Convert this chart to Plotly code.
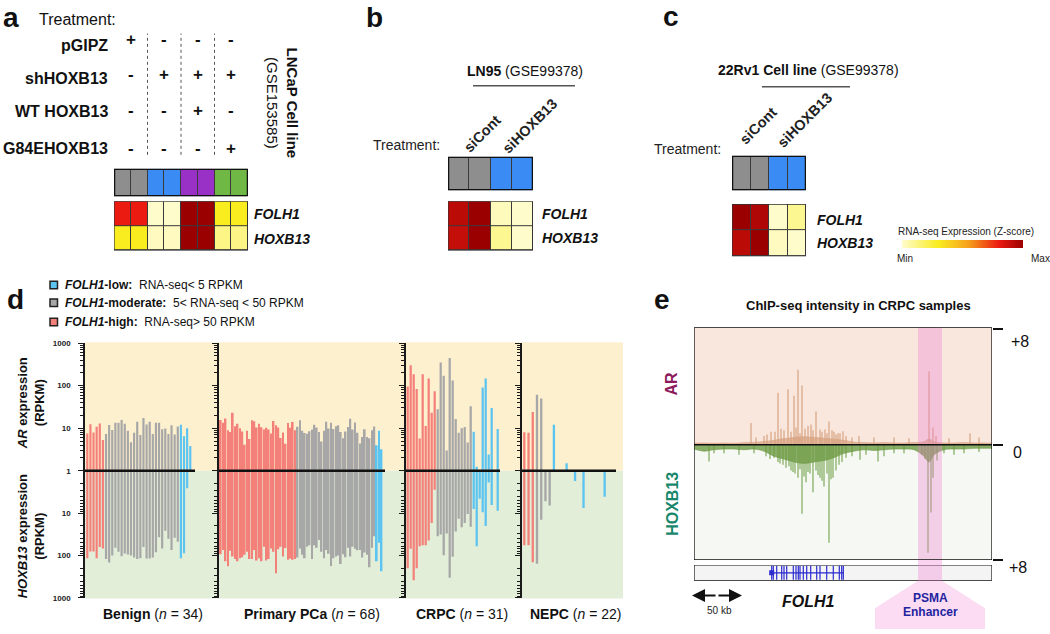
import plotly.graph_objects as go

W, H = 1050, 634
def px(v): return v / W
def py(v): return 1 - v / H

FONT = "Arial, Liberation Sans, Helvetica, sans-serif"

# ================= DATA =================
# ---- panel a ----
a_rows = ["pGIPZ", "shHOXB13", "WT HOXB13", "G84EHOXB13"]
a_signs = [["+", "-", "-", "-"],
           ["-", "+", "+", "+"],
           ["-", "-", "+", "-"],
           ["-", "-", "-", "+"]]
a_treat = [0, 0, 1, 1, 2, 2, 3, 3]
genes = ["FOLH1", "HOXB13"]
a_expr = [[0.80, 0.80, 0.00, 0.00, 1.00, 1.00, 0.30, 0.30],
          [0.30, 0.30, 0.02, 0.02, 1.00, 1.00, 0.12, 0.12]]
# ---- panel b / c ----
si_labels = ["siCont", "siHOXB13"]
bc_treat = [0, 0, 1, 1]
b_expr = [[0.92, 1.00, 0.03, 0.00],
          [0.90, 1.00, 0.10, 0.00]]
c_expr = [[1.00, 0.95, 0.00, 0.10],
          [0.92, 1.00, 0.02, 0.00]]

# ---- panel d (RPKM) ----
benign_cat = ["high"] * 6 + ["moderate"] * 24 + ["low"] * 4
benign_ar = [7.5, 12.4, 7.9, 10.9, 13, 5.3,
             7.3, 11.9, 9.1, 13.5, 13.5, 15.6, 12.8, 8.7, 4.7, 7.8, 14.2, 6.9,
             17.3, 12.3, 14.2, 7.3, 13.5, 13.5, 9.5, 9.8, 7.3, 11.7, 7.1, 11,
             12, 6.5, 10, 3.8]
benign_hox = [115, 80, 80, 115, 63, 68,
              121, 145, 100, 65, 81, 104, 90, 95, 100, 111, 121, 115,
              63, 117, 117, 111, 84, 37, 68, 26, 40, 74, 38, 47,
              115, 88, 2.6, 1]

primary_cat = ["high"] * 32 + ["moderate"] * 33 + ["low"] * 3
primary_ar = [15.6, 13.5, 17, 9, 8.2, 23, 11.1, 12.8, 10, 8.4, 4.1, 8.7, 5.6, 15.3,
              14.5, 10.4, 12.8, 10.5, 9.3, 10.2, 9.3, 7.5, 14.7, 11.7, 10.4, 5.9,
              7.9, 4.3, 13.3, 10.2, 14, 9,
              10.9, 15.3, 8.7, 7.7, 7.4, 8.5, 9.3, 12.1, 10.4, 8.2, 4.9, 8.7, 14.2,
              9.8, 13.5, 9.6, 11.1, 11.7, 8.1, 5.8, 8.4, 10.7, 16.7, 9.3, 13.7, 7.8,
              4.4, 6.2, 9.5, 6.2, 5.8, 9, 11,
              4.0, 8.7, 3.2]
primary_hox = [93, 74, 137, 179, 77, 105, 121, 137, 115, 109, 96, 81, 121, 121,
               74, 131, 115, 137, 62, 131, 121, 68, 81, 260, 71, 62, 105, 66,
               125, 118, 125, 121,
               111, 68, 96, 115, 62, 57, 121, 57, 65, 43, 81, 115, 74, 91, 176,
               115, 105, 100, 159, 93, 109, 65, 105, 62, 69, 75, 74, 111, 85, 96,
               188, 65, 35,
               137, 50, 234]

crpc_cat = ["high"] * 10 + ["moderate"] * 12 + ["low"] * 9
crpc_ar = [96, 300, 185, 83, 5.7, 185, 11.3, 148, 23, 74,
           28, 350, 170, 3, 445, 133, 16.5, 7.8, 10, 10.7, 4.6, 33,
           8.3, 1.25, 1, 90, 148, 2.4, 30, 1, 9.6]
crpc_hox = [200, 69, 380, 200, 60, 57, 57, 44, 17, 2.8,
            35, 32, 98, 30, 333, 107, 27, 13.6, 21.6, 17, 10.4, 21,
            8, 60, 4.6, 9.5, 20, 1.9, 6.4, 1, 8.8]

nepc_cat = ["high"] * 3 + ["moderate"] * 4 + ["low"] * 15
nepc_ar = [8, 7.8, 24, 61, 50, 1, 1,
           12, 1, 1, 1.5, 1, 1, 1, 1, 1, 1, 1, 1, 1, 1, 1]
nepc_hox = [57, 57, 144, 157, 14.3, 5.2, 6.6,
            1, 1, 1, 1, 1, 1.75, 1, 7.6, 1, 1, 1, 1, 4.1, 1, 1]

d_names = ["Benign", "Primary PCa", "CRPC", "NEPC"]
d_cats = [benign_cat, primary_cat, crpc_cat, nepc_cat]
d_ar = [benign_ar, primary_ar, crpc_ar, nepc_ar]
d_hox = [benign_hox, primary_hox, crpc_hox, nepc_hox]
d_legend = [("low", "RNA-seq&lt; 5 RPKM"),
            ("moderate", "5&lt; RNA-seq &lt; 50 RPKM"),
            ("high", "RNA-seq&gt; 50 RPKM")]

# ---- panel e (kb, ChIP-seq signal) ----
env_kb = [0, 10, 20, 30, 40, 50, 60, 70, 80, 90, 100, 110, 120, 130, 140, 150,
          160, 170, 180, 190, 200, 210, 220, 230, 235, 240, 250, 260, 270, 280, 290, 298]
ar_env = [0.1, 0.12, 0.1, 0.12, 0.1, 0.14, 0.16, 0.22, 0.3, 0.42, 0.5, 0.55, 0.5,
          0.45, 0.38, 0.3, 0.18, 0.15, 0.12, 0.15, 0.12, 0.12, 0.15, 0.2, 0.4, 0.2,
          0.12, 0.12, 0.15, 0.12, 0.12, 0.1]
hox_env = [0.3, 0.45, 0.35, 0.3, 0.3, 0.35, 0.3, 0.45, 0.8, 1.0, 1.2, 1.3, 1.2,
           1.1, 0.9, 0.6, 0.45, 0.35, 0.4, 0.35, 0.3, 0.3, 0.35, 0.8, 1.2, 0.7,
           0.35, 0.3, 0.3, 0.25, 0.25, 0.25]
ar_peak_kb = [57, 77, 84, 90, 94, 100, 104, 108, 111, 114, 117, 122, 126, 131,
              135, 140, 144, 149, 235, 239, 276,
              62, 70, 73, 81, 87, 97, 102, 106, 119, 128, 133, 138, 142, 146, 152,
              158, 165, 180, 200, 215, 242, 255, 285]
ar_peak_val = [1.5, 0.9, 3.6, 1.0, 3.85, 3.4, 5.2, 4.1, 1.1, 1.3, 1.4, 2.3, 1.05,
               1.05, 1.6, 0.9, 0.8, 0.93, 5.1, 1.2, 0.8,
               0.5, 0.6, 0.7, 0.9, 1.1, 0.9, 1.2, 0.8, 1.0, 0.9, 0.8, 1.0, 0.7, 0.8,
               0.6, 0.5, 0.6, 0.5, 0.5, 0.45, 0.6, 0.45, 0.5]
hox_peak_kb = [15, 30, 80, 84, 89, 95, 99, 104, 108, 112, 116, 119, 122, 126, 130,
               135, 139, 145, 152, 166, 184, 200, 234, 237, 239, 260,
               20, 45, 60, 72, 76, 86, 92, 97, 101, 106, 110, 114, 124, 128, 133,
               137, 142, 148, 158, 172, 190, 210, 228, 231, 243, 250, 270, 285]
hox_peak_val = [1.17, 0.6, 0.9, 1.2, 1.4, 1.5, 1.9, 2.3, 4.8, 2.6, 2.0, 3.3, 1.8,
                2.3, 2.9, 6.8, 2.3, 1.4, 0.9, 1.05, 1.17, 0.6, 7.5, 4.7, 2.3, 0.7,
                0.6, 0.7, 0.6, 0.8, 1.0, 1.3, 1.6, 1.8, 2.0, 1.7, 2.2, 1.9, 2.1, 2.5,
                2.0, 2.4, 1.8, 1.2, 0.8, 0.7, 0.8, 0.6, 0.7, 1.0, 1.1, 0.6, 0.6, 0.5]
gene_span_kb = [77.7, 150]
exon_kb = [77.7, 79.3, 82.7, 87.7, 90, 92.7, 99.3, 102, 104.3, 106, 109.3, 112.7,
           116.7, 122.7, 126, 132.7, 139.3, 145.3, 147.7, 149.3]
enhancer_kb = [224, 248]
scale_kb = 50

# ================= STYLE =================
treat_colors = ["#8e8e8e", "#3a8cf4", "#9a31c7", "#6fb845"]
expr_scale = [[0.0, "#fffccc"], [0.3, "#f9ec1f"], [0.55, "#f6a01c"],
              [0.8, "#ec1b12"], [1.0, "#9b0000"]]
cat_colors = {"low": "#5cc4f0", "moderate": "#a7a7a7", "high": "#f4807a"}

fig = go.Figure()
layout = dict(width=W, height=H, margin=dict(l=0, r=0, t=0, b=0),
              paper_bgcolor="white", plot_bgcolor="rgba(0,0,0,0)",
              showlegend=False, barmode="overlay",
              font=dict(family=FONT, color="#111"))
shapes, anns = [], []

def xk(i): return "xaxis" if i == 1 else f"xaxis{i}"
def yk(i): return "yaxis" if i == 1 else f"yaxis{i}"
def xr(i): return "x" if i == 1 else f"x{i}"
def yr(i): return "y" if i == 1 else f"y{i}"

def ann(text, x, y, size=12, xa="center", ya="middle", **kw):
    d = dict(text=text, x=px(x), y=py(y), xref="paper", yref="paper",
             showarrow=False, xanchor=xa, yanchor=ya,
             font=dict(size=size, family=FONT, color=kw.pop("color", "#111")))
    d.update(kw)
    anns.append(d)

# ---------- panel d ----------
# (axis px, right px, first bar px, step px, bar width, zero-line end px)
d_geom = [(85, 219, 87.3, 3.12, 0.7, 195), (219, 406, 220.7, 2.4, 0.75, 385),
          (406, 522, 407.7, 3.0, 0.75, 500), (522, 623, 524.3, 4.23, 0.55, 616)]
minor_vals = [m * 10 ** k for k in range(3) for m in range(2, 10)]
Y_TOP, Y_MID, Y_BOT = 344, 473.5, 602.5

shapes.append(dict(type="rect", xref="paper", yref="paper", x0=px(85), x1=px(623),
                   y0=py(Y_MID), y1=py(343), fillcolor="#fdf0cf", line=dict(width=0), layer="below"))
shapes.append(dict(type="rect", xref="paper", yref="paper", x0=px(85), x1=px(623),
                   y0=py(603), y1=py(Y_MID), fillcolor="#e2eed8", line=dict(width=0), layer="below"))

label_cx = [153, 312, 462, 575]
for g in range(4):
    xi, yu, yl = g + 1, g + 1, g + 5
    ax_px, r_px, f_px, st, bw, le = d_geom[g]
    n = len(d_ar[g])
    xs = list(range(n))
    cols = [cat_colors[c] for c in d_cats[g]]
    x0r = (ax_px - f_px) / st
    layout[xk(xi)] = dict(domain=[px(ax_px), px(r_px)], range=[x0r, (r_px - f_px) / st],
                          visible=False, anchor=yr(yl))
    common = dict(type="log", showline=True, linecolor="#1a1a1a", linewidth=1.5,
                  ticks="outside", ticklen=5, tickwidth=1.2, tickcolor="#1a1a1a",
                  showgrid=False, zeroline=False, anchor=xr(xi),
                  minor=dict(ticks="outside", ticklen=3, tickwidth=1, tickcolor="#1a1a1a",
                             tickvals=minor_vals, showgrid=False),
                  tickfont=dict(size=8, color="#222", family=FONT),
                  showticklabels=(g == 0), ticklabelstandoff=6)
    layout[yk(yu)] = dict(common, domain=[py(Y_MID), py(Y_TOP)], range=[0, 3],
                          tickvals=[1, 10, 100, 1000],
                          ticktext=["<b>1</b>", "<b>10</b>", "<b>100</b>", "<b>1000</b>"])
    layout[yk(yl)] = dict(common, domain=[py(Y_BOT), py(Y_MID)], range=[3, 0],
                          tickvals=[10, 100, 1000],
                          ticktext=["<b>10</b>", "<b>100</b>", "<b>1000</b>"])
    fig.add_trace(go.Bar(x=xs, y=d_ar[g], width=bw, marker=dict(color=cols, line=dict(width=0)),
                         xaxis=xr(xi), yaxis=yr(yu), hoverinfo="skip"))
    fig.add_trace(go.Bar(x=xs, y=d_hox[g], width=bw, marker=dict(color=cols, line=dict(width=0)),
                         xaxis=xr(xi), yaxis=yr(yl), hoverinfo="skip"))
    shapes.append(dict(type="line", xref=xr(xi), yref="paper", x0=x0r, x1=(le - f_px) / st,
                       y0=py(Y_MID), y1=py(Y_MID), line=dict(color="#111", width=2.5), layer="above"))
    ann(f"<b>{d_names[g]}</b> (<i>n</i> = {n})", label_cx[g], 619, 14)

ann("<b><i>AR</i> expression<br>(RPKM)</b>", 31, 405, 13, textangle=-90)
ann("<b><i>HOXB13</i> expression<br>(RPKM)</b>", 31, 540, 13, textangle=-90)
for i, (cat, txt) in enumerate(d_legend):
    yy = [285, 303, 322.7][i]
    shapes.append(dict(type="rect", xref="paper", yref="paper", x0=px(50), x1=px(57.5),
                       y0=py(yy + 3.8), y1=py(yy - 3.8), fillcolor=cat_colors[cat],
                       line=dict(color="#222", width=1.5)))
    ann(f"<b><i>FOLH1</i>-{cat}:</b>  {txt}", 63, yy, 12, xa="left")

# ---------- heatmap helper (a, b, c) ----------
def heat_block(xi, yt, ye, xdom, tdom, edom, treat, tcolors, expr, show_scale=False):
    nc = len(treat)
    layout[xk(xi)] = dict(domain=[px(xdom[0]), px(xdom[1])], range=[-0.5, nc - 0.5],
                          visible=False, anchor=yr(ye))
    layout[yk(yt)] = dict(domain=[py(tdom[1]), py(tdom[0])], range=[-0.5, 0.5],
                          visible=False, anchor=xr(xi))
    layout[yk(ye)] = dict(domain=[py(edom[1]), py(edom[0])], range=[1.5, -0.5],
                          visible=False, anchor=xr(xi))
    k = len(tcolors) - 1
    tscale = [[i / k, c] for i, c in enumerate(tcolors)]
    for yy, y0, y1 in ((yt, -0.5, 0.5), (ye, -0.5, 1.5)):
        shapes.append(dict(type="rect", xref=xr(xi), yref=yr(yy), x0=-0.5, x1=nc - 0.5,
                           y0=y0, y1=y1, fillcolor="#3a3a3a", line=dict(width=0), layer="below"))
    fig.add_trace(go.Heatmap(z=[treat], x=list(range(nc)), y=[0], colorscale=tscale,
                             zmin=0, zmax=k, showscale=False, xgap=1, ygap=0,
                             xaxis=xr(xi), yaxis=yr(yt), hoverinfo="skip"))
    hm = dict(z=expr, x=list(range(nc)), y=[0, 1], colorscale=expr_scale, zmin=0, zmax=1,
              xgap=1, ygap=1, xaxis=xr(xi), yaxis=yr(ye), hoverinfo="skip", showscale=show_scale)
    if show_scale:
        hm["colorbar"] = dict(orientation="h", x=px(962.5), xanchor="center", y=py(243),
                              yanchor="middle", len=121, lenmode="pixels", thickness=8,
                              thicknessmode="pixels", outlinewidth=0, showticklabels=False,
                              ticks="", xpad=0, ypad=0)
    fig.add_trace(go.Heatmap(**hm))
    shapes.append(dict(type="rect", xref=xr(xi), yref=yr(yt), x0=-0.5, x1=nc - 0.5,
                       y0=-0.5, y1=0.5, line=dict(color="#111", width=2.5), layer="above"))
    shapes.append(dict(type="rect", xref=xr(xi), yref=yr(ye), x0=-0.5, x1=nc - 0.5,
                       y0=-0.5, y1=1.5, line=dict(color="#333", width=1.2), layer="above"))

# ---------- panel a ----------
heat_block(5, 9, 10, (114, 248), (167, 195), (200, 250), a_treat, treat_colors, a_expr)
ann("<b>a</b>", 11, 14, 28)
ann("Treatment:", 37, 16, 16, xa="left")
row_y = [41.7, 76, 109.3, 146.7]
sign_y = [36, 72, 108, 147]
for r, name in enumerate(a_rows):
    ann(f"<b>{name}</b>", 110, row_y[r], 16, xa="right")
    for cidx, s in enumerate(a_signs[r]):
        anns.append(dict(text=f"<b>{s}</b>", x=2 * cidx + 0.5, y=py(sign_y[r]), xref="x5",
                         yref="paper", showarrow=False, xanchor="center", yanchor="middle",
                         font=dict(size=17, family=FONT, color="#111")))
for b in (1.5, 3.5, 5.5):
    shapes.append(dict(type="line", xref="x5", yref="paper", x0=b, x1=b, y0=py(153), y1=py(30),
                       line=dict(color="#555", width=1, dash="dot")))
for gi, gname in enumerate(genes):
    ann(f"<b><i>{gname}</i></b>", 252, [213, 238][gi], 14, xa="left")
ann("<b>LNCaP Cell line</b><br>(GSE153585)", 282, 100, 15, textangle=90)

# ---------- panel b ----------
heat_block(6, 11, 12, (448, 533), (155, 189), (200, 250), bc_treat, treat_colors[:2], b_expr)
ann("<b>b</b>", 374, 14, 28)
ann("<b>LN95</b> (GSE99378)", 525, 68, 14)
shapes.append(dict(type="line", xref="paper", yref="paper", x0=px(473), x1=px(575),
                   y0=py(83), y1=py(83), line=dict(color="#555", width=1.5)))
ann("Treatment:", 442, 143, 14, xa="right", color="#222")
for i, s in enumerate(si_labels):
    ann(f"<b>{s}</b>", [482, 530][i], [132, 124][i], 14.5, textangle=-45, color="#222")
for gi, gname in enumerate(genes):
    ann(f"<b><i>{gname}</i></b>", 540, [213, 237][gi], 14, xa="left")

# ---------- panel c ----------
heat_block(7, 13, 14, (732, 806), (154, 189), (203, 256), bc_treat, treat_colors[:2], c_expr,
           show_scale=True)
ann("<b>c</b>", 671, 13, 28)
ann("<b>22Rv1 Cell line</b> (GSE99378)", 808, 67, 14)
shapes.append(dict(type="line", xref="paper", yref="paper", x0=px(762), x1=px(850),
                   y0=py(84), y1=py(84), line=dict(color="#555", width=1.5)))
ann("Treatment:", 723, 147, 14, xa="right", color="#222")
for i, s in enumerate(si_labels):
    ann(f"<b>{s}</b>", [758, 805][i], [124, 118][i], 14.5, textangle=-45, color="#222")
for gi, gname in enumerate(genes):
    ann(f"<b><i>{gname}</i></b>", 815, [219, 242][gi], 14, xa="left")
ann("RNA-seq Expression (Z-score)", 966, 231, 10, color="#222")
ann("Min", 905, 258, 10, color="#222")
ann("Max", 1040, 258, 10, color="#222")

# ---------- panel e ----------
E_L, E_R, E_T, E_B = 694, 992, 328, 564
layout["xaxis8"] = dict(domain=[px(E_L), px(E_R)], range=[0, 298], visible=False, anchor="y15")
layout["yaxis15"] = dict(domain=[py(E_B), py(E_T)], range=[-8, 8.14], anchor="x8", side="right",
                         showline=False, showgrid=False, zeroline=False, ticks="outside",
                         ticklen=10, tickwidth=1.5, tickcolor="#111", tickvals=[-8, 0, 8],
                         showticklabels=False)
layout["yaxis16"] = dict(domain=[py(585), py(569)], range=[0, 1], visible=False, anchor="x8")

shapes.append(dict(type="rect", xref="x8", yref="y15", x0=0, x1=298, y0=0, y1=8.14,
                   fillcolor="#f9e7dd", line=dict(width=0), layer="below"))
shapes.append(dict(type="rect", xref="x8", yref="y15", x0=0, x1=298, y0=-8, y1=0,
                   fillcolor="#f6f8f3", line=dict(width=0), layer="below"))
# trapezoid under the enhancer
trap = [(918, 585), (942, 585), (985, 613), (985, 634), (875, 634), (875, 613)]
path = "M " + " L ".join(f"{px(a)},{py(b)}" for a, b in trap) + " Z"
shapes.append(dict(type="path", xref="paper", yref="paper", path=path,
                   fillcolor="#fbdcf3", line=dict(width=0), layer="below"))

fig.add_trace(go.Scatter(x=env_kb, y=ar_env, mode="lines", fill="tozeroy",
                         line=dict(width=0.6, color="#d8a384", shape="spline"),
                         fillcolor="rgba(214,160,125,0.7)", xaxis="x8", yaxis="y15", hoverinfo="skip"))
fig.add_trace(go.Scatter(x=env_kb, y=[-v for v in hox_env], mode="lines", fill="tozeroy",
                         line=dict(width=0.6, color="#6f9b45", shape="spline"),
                         fillcolor="rgba(110,155,68,0.8)", xaxis="x8", yaxis="y15", hoverinfo="skip"))
fig.add_trace(go.Bar(x=ar_peak_kb, y=ar_peak_val, width=1.2,
                     marker=dict(color="rgba(210,150,115,0.85)", line=dict(width=0)),
                     xaxis="x8", yaxis="y15", hoverinfo="skip"))
fig.add_trace(go.Bar(x=hox_peak_kb, y=[-v for v in hox_peak_val], width=1.2,
                     marker=dict(color="rgba(105,155,65,0.85)", line=dict(width=0)),
                     xaxis="x8", yaxis="y15", hoverinfo="skip"))
# gene track
shapes.append(dict(type="rect", xref="x8", yref="y16", x0=0, x1=298, y0=0, y1=1,
                   fillcolor="#f4f4f4", line=dict(color="#111", width=1.2), layer="below"))
fig.add_trace(go.Scatter(x=gene_span_kb, y=[0.5, 0.5], mode="lines",
                         line=dict(color="#2b2bd0", width=1.3), xaxis="x8", yaxis="y16", hoverinfo="skip"))
fig.add_trace(go.Scatter(x=exon_kb, y=[0.5] * len(exon_kb), mode="markers",
                         marker=dict(symbol="line-ns", size=10, line=dict(color="#2b2bd0", width=1.2)),
                         xaxis="x8", yaxis="y16", hoverinfo="skip"))
fig.add_trace(go.Scatter(x=[gene_span_kb[0]], y=[0.5], mode="markers",
                         marker=dict(symbol="square", size=5, color="#2b2bd0"),
                         xaxis="x8", yaxis="y16", hoverinfo="skip"))
# enhancer band, box, zero line
shapes.append(dict(type="rect", xref="x8", yref="paper", x0=enhancer_kb[0], x1=enhancer_kb[1],
                   y0=py(585), y1=py(E_T), fillcolor="rgba(238,130,210,0.35)",
                   line=dict(width=0), layer="above"))
shapes.append(dict(type="rect", xref="x8", yref="y15", x0=0, x1=298, y0=-8, y1=8.14,
                   line=dict(color="#111", width=1.3), layer="above"))
shapes.append(dict(type="line", xref="x8", yref="y15", x0=0, x1=298, y0=0, y1=0,
                   line=dict(color="#111", width=1.5), layer="above"))
# 50 kb scale arrow
for head in (-2, scale_kb - 2):
    anns.append(dict(x=head, y=py(600), xref="x8", yref="paper", text="", showarrow=True,
                     ax=(scale_kb / 2) - 2, axref="x8", ay=0, ayref="pixel",
                     arrowhead=2, arrowsize=1.3, arrowwidth=2, arrowcolor="#111"))
ann("50 kb", 719, 615, 10, color="#222")
ann("<b><i>FOLH1</i></b>", 808, 606, 16)
ann("<b>PSMA</b>", 930, 603, 12, color="#2323a0")
ann("<b>Enhancer</b>", 930, 617, 12, color="#2323a0")
ann("<b>e</b>", 662, 300, 28)
ann("<b>d</b>", 15, 300, 28)
ann("<b>ChIP-seq intensity in CRPC samples</b>", 858, 306, 13)
ann("+8", 1020, 342, 16)
ann("0", 1017, 455, 16)
ann("+8", 1018, 572, 16)
ann("<b>AR</b>", 672, 385, 16, textangle=-90, color="#8e1b5c")
ann("<b>HOXB13</b>", 673, 507, 16, textangle=-90, color="#17876b")

layout["shapes"] = shapes
layout["annotations"] = anns
fig.update_layout(**layout)
fig.write_html("out.html", config={"displayModeBar": False},
               post_script="document.body.style.margin='0';document.body.style.overflow='hidden';")
